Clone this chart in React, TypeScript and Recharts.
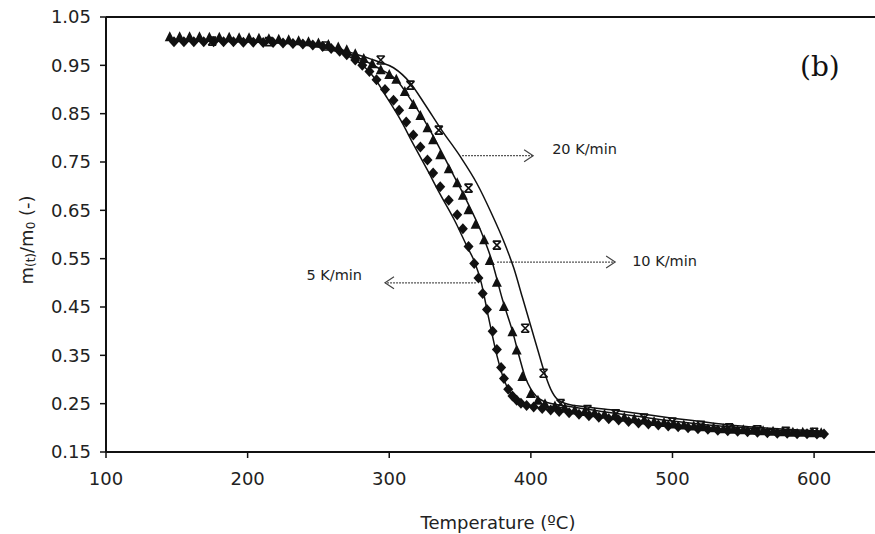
import {
  ComposedChart,
  Line,
  ReferenceLine,
  Scatter,
  XAxis,
  YAxis,
} from 'recharts';

// measured points, 5 K/min (diamonds)
const temp5 = [
  148, 155, 162, 169, 176, 183, 190, 197, 204, 211,
  218, 225, 232, 239, 246, 253, 259, 265, 270, 276,
  281, 286, 291, 297, 303, 307, 312, 317, 322, 327,
  331, 336, 342, 348, 352, 356, 360, 363, 366, 369,
  373, 376, 379, 381, 384, 387, 390, 393, 397, 402,
  408, 414, 420, 427, 434, 441, 448, 455, 462, 469,
  476, 483, 490, 497, 504, 511, 518, 525, 532, 539,
  546, 553, 560, 567, 574, 581, 588, 595, 602, 607,
];
const mass5 = [
  0.999, 0.999, 0.999, 0.999, 0.999, 0.999, 0.999, 0.998, 0.998, 0.997,
  0.997, 0.996, 0.995, 0.994, 0.992, 0.989, 0.985, 0.979, 0.972, 0.961,
  0.95, 0.937, 0.92, 0.9, 0.878, 0.857, 0.833, 0.806, 0.781, 0.754,
  0.727, 0.699, 0.671, 0.641, 0.612, 0.575, 0.54, 0.51, 0.478, 0.445,
  0.4, 0.362, 0.325, 0.302, 0.28, 0.266, 0.257, 0.251, 0.246, 0.243,
  0.24, 0.237, 0.234, 0.231, 0.228, 0.225, 0.222, 0.219, 0.216, 0.213,
  0.21, 0.208, 0.206, 0.204, 0.202, 0.2, 0.198, 0.197, 0.195, 0.194,
  0.193, 0.192, 0.191, 0.19, 0.189, 0.189, 0.188, 0.188, 0.187, 0.187,
];

// measured points, 10 K/min (triangles)
const temp10 = [
  145, 152, 159, 166, 173, 180, 187, 194, 201, 208,
  215, 222, 229, 236, 243, 250, 257, 264, 270, 276,
  282, 288, 294, 300, 305, 311, 317, 322, 327, 331,
  336, 342, 348, 352, 356, 361, 367, 371, 376, 381,
  387, 390, 394, 400, 405, 410, 417, 424, 431, 438,
  445, 452, 459, 466, 473, 480, 487, 494, 501, 508,
  515, 522, 529, 536, 543, 550, 557, 564, 571, 578,
  585, 592, 599, 605,
];
const mass10 = [
  1.008, 1.008, 1.008, 1.008, 1.007, 1.007, 1.007, 1.006, 1.006, 1.005,
  1.004, 1.003, 1.002, 1.0, 0.998, 0.995, 0.992, 0.987, 0.981, 0.973,
  0.963, 0.952, 0.94, 0.93, 0.92, 0.895, 0.868, 0.845, 0.82, 0.795,
  0.764, 0.735, 0.706, 0.68, 0.65, 0.62, 0.588, 0.545, 0.5, 0.45,
  0.398, 0.36, 0.305, 0.27, 0.256, 0.249, 0.244, 0.24, 0.236, 0.233,
  0.23, 0.227, 0.224, 0.221, 0.218, 0.215, 0.212, 0.21, 0.207, 0.205,
  0.203, 0.201, 0.199, 0.197, 0.196, 0.195, 0.194, 0.193, 0.192, 0.191,
  0.19, 0.19, 0.189, 0.189,
];

// measured points, 20 K/min (crosses)
const temp20 = [175, 215, 255, 294, 315, 335, 356, 376, 396, 409, 421, 440, 460, 480, 500, 520, 540, 560, 580, 600];
const mass20 = [1.0, 0.999, 0.99, 0.961, 0.909, 0.816, 0.696, 0.578, 0.406, 0.313, 0.25, 0.238, 0.229, 0.22, 0.212, 0.205, 0.2, 0.196, 0.193, 0.191];

// model curves
const modelTemp5 = [145, 180, 210, 230, 250, 265, 275, 282, 289, 298, 308, 317, 327, 336, 346, 355, 360, 365, 370, 376, 381, 386, 390, 395, 400, 410, 425, 450, 475, 500, 525, 550, 575, 600, 607];
const modelMass5 = [1.0, 1.0, 0.998, 0.995, 0.988, 0.977, 0.963, 0.948, 0.926, 0.885, 0.837, 0.787, 0.733, 0.683, 0.63, 0.575, 0.545, 0.5, 0.43, 0.35, 0.3, 0.27, 0.258, 0.25, 0.245, 0.239, 0.233, 0.223, 0.213, 0.205, 0.199, 0.194, 0.191, 0.189, 0.188];

const modelTemp10 = [145, 180, 210, 230, 250, 265, 280, 292, 305, 315, 325, 335, 345, 355, 365, 372, 380, 387, 392, 396, 400, 404, 409, 415, 425, 450, 475, 500, 525, 550, 575, 600, 607];
const modelMass10 = [1.0, 1.0, 0.999, 0.996, 0.99, 0.98, 0.963, 0.945, 0.92, 0.88, 0.835, 0.782, 0.725, 0.668, 0.605, 0.55, 0.465, 0.4, 0.345, 0.305, 0.28, 0.265, 0.255, 0.25, 0.245, 0.234, 0.224, 0.214, 0.206, 0.2, 0.195, 0.192, 0.191];

const modelTemp20 = [145, 180, 210, 230, 250, 265, 280, 292, 303, 315, 325, 337, 350, 362, 372, 381, 388, 394, 400, 405, 409, 414, 419, 425, 440, 460, 480, 500, 520, 540, 560, 580, 600, 607];
const modelMass20 = [1.0, 1.0, 0.999, 0.997, 0.992, 0.983, 0.97, 0.958, 0.945, 0.913, 0.87, 0.816, 0.762, 0.705, 0.645, 0.585, 0.53, 0.47, 0.41, 0.36, 0.32, 0.28, 0.258, 0.25, 0.243, 0.236, 0.228, 0.22, 0.213, 0.206, 0.201, 0.197, 0.194, 0.193];

const xTicks = [100, 200, 300, 400, 500, 600];
const yTicks = [0.15, 0.25, 0.35, 0.45, 0.55, 0.65, 0.75, 0.85, 0.95, 1.05];

const zip = (ts: number[], ms: number[]) => ts.map((t, i) => ({ t, m: ms[i] }));

const FONT = '"DejaVu Sans", Arial, sans-serif';
const INK = '#111';

// eslint-disable-next-line @typescript-eslint/no-explicit-any
const Diamond = (props: any) => {
  const { cx, cy } = props;
  return <polygon points={`${cx},${cy - 5.5} ${cx + 5},${cy} ${cx},${cy + 5.5} ${cx - 5},${cy}`} fill={INK} />;
};

// eslint-disable-next-line @typescript-eslint/no-explicit-any
const Triangle = (props: any) => {
  const { cx, cy } = props;
  return <polygon points={`${cx},${cy - 6} ${cx + 5},${cy + 4} ${cx - 5},${cy + 4}`} fill={INK} />;
};

// eslint-disable-next-line @typescript-eslint/no-explicit-any
const Cross = (props: any) => {
  const { cx, cy } = props;
  const d = `M${cx - 4},${cy - 4}L${cx + 4},${cy - 4}M${cx - 4},${cy + 4}L${cx + 4},${cy + 4}M${cx - 4},${cy - 4}L${cx + 4},${cy + 4}M${cx + 4},${cy - 4}L${cx - 4},${cy + 4}`;
  return <path d={d} stroke={INK} strokeWidth={1.6} fill="none" />;
};

function arrowShape(text: string, dx: number, dy: number, anchor: 'start' | 'end') {
  // eslint-disable-next-line @typescript-eslint/no-explicit-any
  return (props: any) => {
    const { x1, y1, x2, y2 } = props;
    const dir = x2 > x1 ? 1 : -1;
    return (
      <g>
        <line x1={x1} y1={y1} x2={x2} y2={y2} stroke="#555" strokeWidth={1.2} strokeDasharray="2 1" />
        <path
          d={`M${x2 - dir * 9},${y2 - 6}L${x2},${y2}L${x2 - dir * 9},${y2 + 6}`}
          stroke="#444"
          strokeWidth={1.2}
          fill="none"
        />
        <text
          x={x2 + dir * dx}
          y={y2 + dy}
          textAnchor={anchor}
          dominantBaseline="central"
          fontFamily={FONT}
          fontSize={14.5}
          fill="#222"
        >
          {text}
        </text>
      </g>
    );
  };
}

export default function App() {
  return (
    <div style={{ position: 'absolute', left: 0, top: 0, width: 875, height: 534, background: '#fff' }}>
      <ComposedChart width={875} height={534} margin={{ top: 17, right: 0, left: 0, bottom: 0 }}>
        <XAxis
          dataKey="t"
          type="number"
          domain={[100, 643]}
          ticks={xTicks}
          allowDataOverflow
          height={82}
          tickSize={6}
          tickMargin={14}
          axisLine={{ stroke: INK, strokeWidth: 2 }}
          tickLine={{ stroke: INK, strokeWidth: 1.5 }}
          tick={{ fill: '#222', fontSize: 18, fontFamily: FONT }}
          label={{
            content: () => (
              <text x={498} y={522} textAnchor="middle" dominantBaseline="central" fontFamily={FONT} fontSize={18} fill="#222">
                Temperature (ºC)
              </text>
            ),
          }}
        />
        <YAxis
          dataKey="m"
          type="number"
          domain={[0.15, 1.05]}
          ticks={yTicks}
          allowDataOverflow
          width={106}
          tickSize={6}
          tickMargin={9}
          tickFormatter={(v) => Number(v).toFixed(2)}
          axisLine={{ stroke: INK, strokeWidth: 2 }}
          tickLine={{ stroke: INK, strokeWidth: 1.5 }}
          tick={{ fill: '#222', fontSize: 18, fontFamily: FONT }}
          label={{
            content: () => (
              <text
                x={26}
                y={240}
                transform="rotate(-90, 26, 240)"
                textAnchor="middle"
                dominantBaseline="central"
                fontFamily={FONT}
                fontSize={18}
                fill="#222"
              >
                m
                <tspan fontSize={12} dy={5}>(t)</tspan>
                <tspan dy={-5}>/m</tspan>
                <tspan fontSize={12} dy={5}>0</tspan>
                <tspan dy={-5}> (-)</tspan>
              </text>
            ),
          }}
        />
        <ReferenceLine y={1.05} stroke={INK} strokeWidth={2} />

        <ReferenceLine
          segment={[{ x: 351.4, y: 0.763 }, { x: 401.6, y: 0.763 }]}
          shape={arrowShape('20 K/min', 19, -7, 'start')}
        />
        <ReferenceLine
          segment={[{ x: 376.1, y: 0.543 }, { x: 459.5, y: 0.543 }]}
          shape={arrowShape('10 K/min', 17, -1, 'start')}
        />
        <ReferenceLine
          segment={[{ x: 361.3, y: 0.5 }, { x: 297, y: 0.5 }]}
          shape={arrowShape('5 K/min', 23, -8, 'end')}
        />

        <Line data={zip(modelTemp5, modelMass5)} dataKey="m" type="monotone" stroke={INK} strokeWidth={1.5} dot={false} isAnimationActive={false} />
        <Line data={zip(modelTemp10, modelMass10)} dataKey="m" type="monotone" stroke={INK} strokeWidth={1.5} dot={false} isAnimationActive={false} />
        <Line data={zip(modelTemp20, modelMass20)} dataKey="m" type="monotone" stroke={INK} strokeWidth={1.5} dot={false} isAnimationActive={false} />

        <Scatter data={zip(temp5, mass5)} shape={Diamond} isAnimationActive={false} />
        <Scatter data={zip(temp10, mass10)} shape={Triangle} isAnimationActive={false} />
        <Scatter data={zip(temp20, mass20)} shape={Cross} isAnimationActive={false} />
      </ComposedChart>
      <svg width={875} height={534} style={{ position: 'absolute', left: 0, top: 0, pointerEvents: 'none' }}>
        <text x={800} y={76} fontFamily='"DejaVu Serif", serif' fontSize={28} fill="#111">
          (b)
        </text>
      </svg>
    </div>
  );
}
